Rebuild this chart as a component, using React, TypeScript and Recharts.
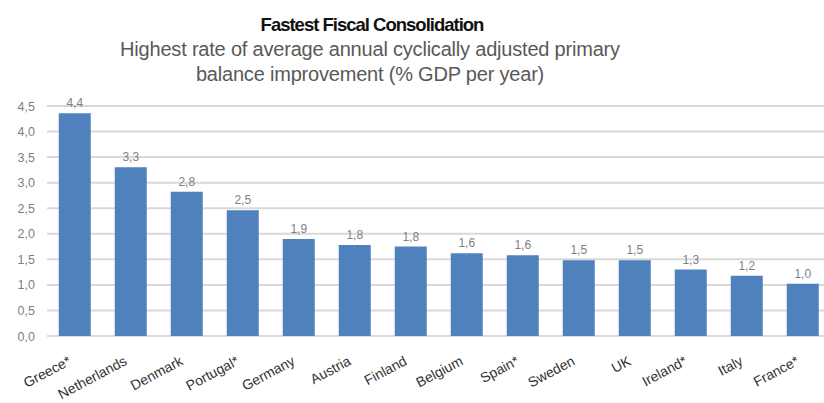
import React from "react";
import { BarChart, Bar, XAxis, YAxis, CartesianGrid, LabelList } from "recharts";

const countries = [
  "Greece*", "Netherlands", "Denmark", "Portugal*", "Germany", "Austria", "Finland",
  "Belgium", "Spain*", "Sweden", "UK", "Ireland*", "Italy", "France*",
];
const improvement = [4.36, 3.3, 2.82, 2.46, 1.9, 1.78, 1.75, 1.62, 1.58, 1.48, 1.48, 1.3, 1.18, 1.02];
const yTicks = [0, 0.5, 1, 1.5, 2, 2.5, 3, 3.5, 4, 4.5];

const title = "Fastest Fiscal Consolidation";
const subtitle1 = "Highest rate of average annual cyclically adjusted primary";
const subtitle2 = "balance improvement (% GDP per year)";

const data = countries.map((c, i) => ({ country: c, value: improvement[i] }));

const fmt = (v: number) => v.toFixed(1).replace(".", ",");

const XTick = (props: any) => {
  const { x, y, payload } = props;
  return (
    <g transform={`translate(${x - 3},${y + 20}) rotate(-28)`}>
      <text
        x={0}
        y={0}
        textAnchor="end"
        fontSize={14}
        fill="#333333"
        fontFamily="Liberation Sans, Arial, sans-serif"
      >
        {payload.value}
      </text>
    </g>
  );
};

const YTick = (props: any) => {
  const { y, payload } = props;
  return (
    <text
      x={35}
      y={y}
      dy={4.5}
      textAnchor="end"
      fontSize={12.5}
      fill="#7f7f7f"
      fontFamily="Liberation Sans, Arial, sans-serif"
    >
      {fmt(payload.value)}
    </text>
  );
};

export default function App() {
  return (
    <div
      style={{
        position: "fixed",
        left: 0,
        top: 0,
        width: 824,
        height: 403,
        overflow: "hidden",
        background: "#ffffff",
        fontFamily: "Liberation Sans, Arial, sans-serif",
      }}
    >
      <BarChart
        width={840}
        height={403}
        data={data}
        margin={{ top: 106, right: 9, bottom: 0, left: 0 }}
        barCategoryGap="21%"
      >
        <CartesianGrid vertical={false} stroke="#d9d9d9" strokeWidth={2} />
        <XAxis
          dataKey="country"
          axisLine={false}
          tickLine={false}
          height={67}
          interval={0}
          tick={<XTick />}
        />
        <YAxis
          width={47}
          domain={[0, 4.5]}
          ticks={yTicks}
          axisLine={false}
          tickLine={false}
          tick={<YTick />}
        />
        <Bar dataKey="value" fill="#4f81bd" isAnimationActive={false}>
          <LabelList
            dataKey="value"
            position="top"
            offset={6}
            formatter={(v: any) => fmt(Number(v))}
            style={{ fontSize: 12, fill: "#7f7f7f", fontFamily: "Liberation Sans, Arial, sans-serif" }}
          />
        </Bar>
      </BarChart>
      <div
        style={{
          position: "absolute",
          left: 372 - 300,
          width: 600,
          top: 13,
          textAlign: "center",
          fontWeight: "bold",
          fontSize: 18.5,
          letterSpacing: -1,
          color: "#111111",
          lineHeight: "24px",
        }}
      >
        {title}
      </div>
      <div
        style={{
          position: "absolute",
          left: 370 - 340,
          width: 680,
          top: 37,
          textAlign: "center",
          fontSize: 20,
          letterSpacing: -0.2,
          color: "#595959",
          lineHeight: "25px",
        }}
      >
        <div>{subtitle1}</div>
        <div>{subtitle2}</div>
      </div>
    </div>
  );
}
